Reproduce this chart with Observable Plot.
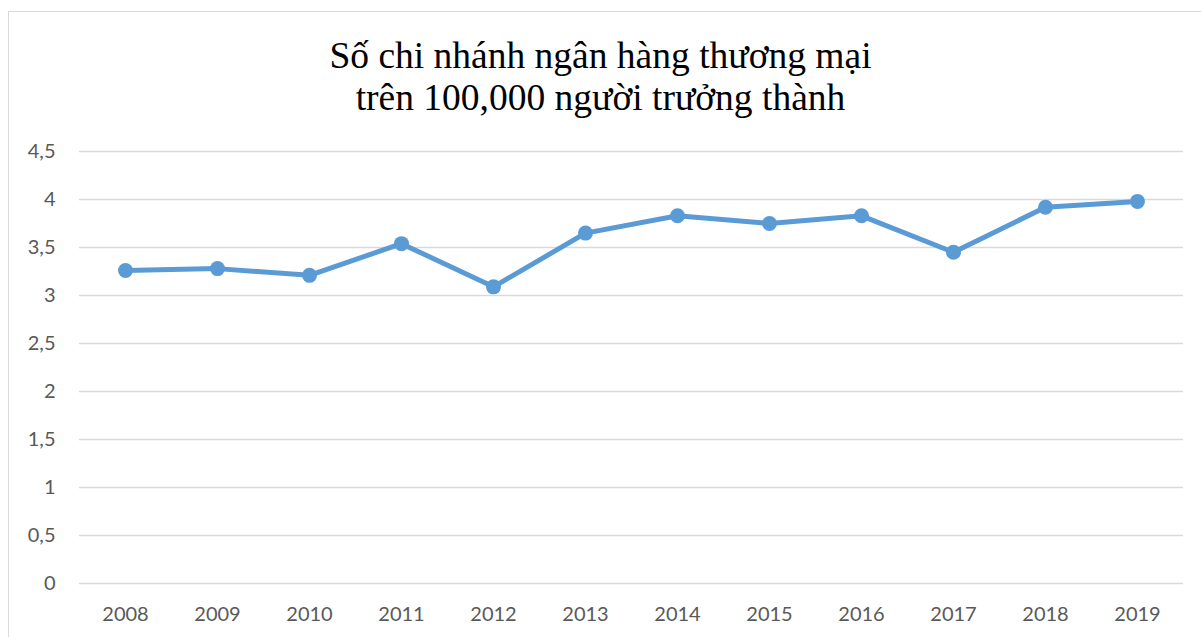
<!DOCTYPE html>
<html>
<head>
<meta charset="utf-8">
<script src="https://cdn.jsdelivr.net/npm/d3@7"></script>
<script src="https://cdn.jsdelivr.net/npm/@observablehq/plot@0.6"></script>
<style>
  html, body { margin: 0; padding: 0; background: #fff; width: 1201px; height: 637px; overflow: hidden; }
  #frame { position: absolute; left: 8px; top: 11px; width: 1300px; height: 700px;
           border-left: 1.5px solid #d9d9d9; border-top: 1.5px solid #d9d9d9; box-sizing: border-box; }
  #title { position: absolute; left: 0; top: 0; width: 1201px; height: 130px; text-align: center;
           font-family: "Liberation Serif", "Times New Roman", serif; font-size: 37.5px; line-height: 42px;
           color: #000; padding-top: 35px; box-sizing: border-box; }
  #chart { position: absolute; left: 0; top: 130px; }
</style>
</head>
<body>
<div id="frame"></div>
<div id="title">Số chi nhánh ngân hàng thương mại<br>trên 100,000 người trưởng thành</div>
<div id="chart"></div>
<script>
const years = ["2008","2009","2010","2011","2012","2013","2014","2015","2016","2017","2018","2019"];
const values = [3.26, 3.28, 3.21, 3.54, 3.09, 3.65, 3.83, 3.75, 3.83, 3.45, 3.92, 3.98];
const yTicks = [0, 0.5, 1, 1.5, 2, 2.5, 3, 3.5, 4, 4.5];

const data = years.map((y, i) => ({year: y, value: values[i]}));
const fmt = d => String(d).replace(".", ",");

const chart = Plot.plot({
  width: 1201,
  height: 507,
  marginTop: 21,
  marginBottom: 54,
  marginLeft: 79,
  marginRight: 18,
  style: { fontFamily: "Lato, 'Open Sans', sans-serif", fontSize: "20px", color: "#595959", background: "transparent" },
  x: { type: "point", domain: years, padding: 0.5, label: null },
  y: { domain: [0, 4.5], label: null },
  marks: [
    Plot.ruleY(yTicks, { stroke: "#d9d9d9", strokeWidth: 1.5 }),
    Plot.axisY(yTicks, { tickSize: 0, tickPadding: 24, tickFormat: fmt, fill: "#595959", label: null }),
    Plot.axisX(years, { tickSize: 0, tickPadding: 23, fill: "#595959", label: null }),
    Plot.line(data, { x: "year", y: "value", stroke: "#5B9BD5", strokeWidth: 5, strokeLinejoin: "round" }),
    Plot.dot(data, { x: "year", y: "value", r: 7.5, fill: "#5B9BD5", stroke: "none" })
  ]
});
document.getElementById("chart").appendChild(chart);
</script>
</body>
</html>
